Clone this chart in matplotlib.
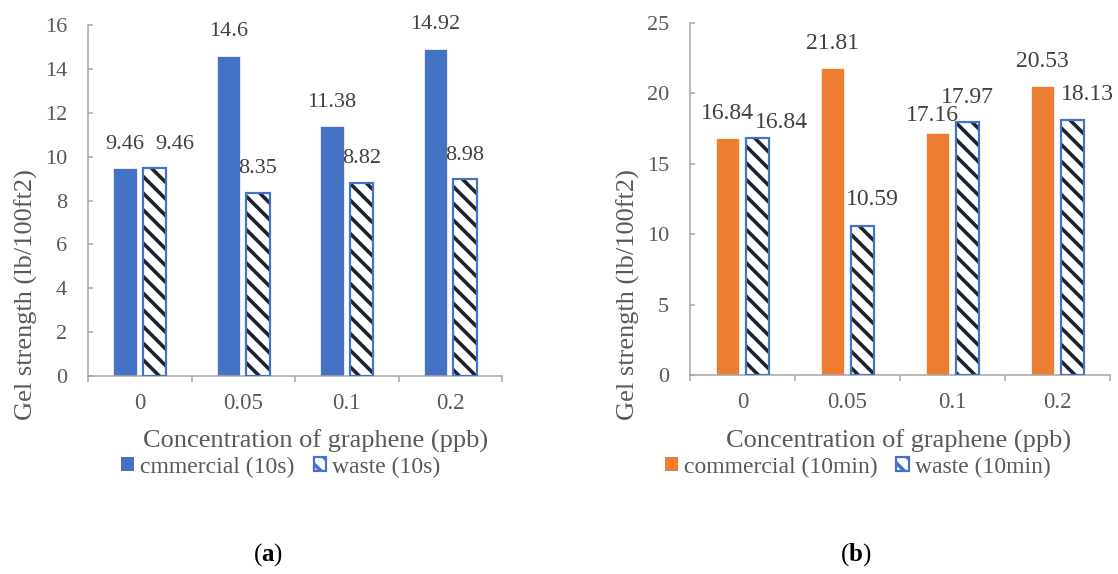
import matplotlib.pyplot as plt
import numpy as np

# data
concentrations = ['0', '0.05', '0.1', '0.2']
commercial_10s = [9.46, 14.6, 11.38, 14.92]
waste_10s = [9.46, 8.35, 8.82, 8.98]
commercial_10min = [16.84, 21.81, 17.16, 20.53]
waste_10min = [16.84, 10.59, 17.97, 18.13]

plt.rcParams['font.family'] = ['Liberation Serif', 'DejaVu Serif']
plt.rcParams['mathtext.fontset'] = 'custom'
plt.rcParams['mathtext.rm'] = 'Liberation Serif'
plt.rcParams['mathtext.bf'] = 'Liberation Serif:bold'
plt.rcParams['hatch.linewidth'] = 2.6

W, H = 1118, 574
BLUE = '#4472C4'
ORANGE = '#ED7D31'
HATCH = '#1b2230'
GRAY = '#a6a6a6'
TXT = '#595959'
LBL = '#404040'

fig = plt.figure(figsize=(W / 100, H / 100), dpi=100)


def px(x, y):
    return x / W, 1 - y / H


def panel(rect, com, wst, ymax, ystep, com_color, com_name, wst_name,
          nudges, lblsize, xlab_x, leg_x, tag, tag_x):
    ax = fig.add_axes(rect)
    x = np.arange(len(concentrations))
    bw, off = 0.225, 0.143
    ax.bar(x - off, com, bw, color=com_color, edgecolor='white', linewidth=0.5,
           zorder=2)
    # hatch drawn first in dark colour, then the blue outline on top
    ax.bar(x + off, wst, bw, color='white', edgecolor=HATCH, hatch='\\\\',
           linewidth=0, zorder=2)
    ax.bar(x + off, wst, bw, fill=False, edgecolor=BLUE, linewidth=1.6, zorder=3)

    vals = [(xi - off, v) for xi, v in zip(x, com)] + \
           [(xi + off, v) for xi, v in zip(x, wst)]
    for i, (xx, v) in enumerate(vals):
        dx, dy = nudges.get(i, (0, 24))
        ax.annotate(f'{v:g}', (xx, v), xytext=(dx * 0.72, dy * 0.72),
                    textcoords='offset points', ha='center', va='center',
                    fontsize=lblsize, color=LBL)

    ax.set_xlim(-0.5, len(concentrations) - 0.5)
    ax.set_ylim(0, ymax)
    ax.set_yticks(np.arange(0, ymax + 0.1, ystep))
    ax.set_xticks(x)
    ax.set_xticklabels(concentrations)
    ax.set_xticks(np.arange(-0.5, len(concentrations)), minor=True)
    ax.tick_params(axis='x', which='major', length=0, pad=12, labelsize=16.5,
                   labelcolor=TXT)
    ax.tick_params(axis='x', which='minor', length=4.5, width=1.1, color=GRAY,
                   direction='out')
    ax.tick_params(axis='y', length=3.5, width=1.1, color=GRAY, direction='in',
                   pad=15, labelsize=16, labelcolor=TXT)
    for s in ['top', 'right']:
        ax.spines[s].set_visible(False)
    for s in ['left', 'bottom']:
        ax.spines[s].set_color(GRAY)
        ax.spines[s].set_linewidth(1.1)

    fig.text(*px(rect[0] * W - 62, 295), 'Gel strength (lb/100ft2)', rotation=90,
             ha='center', va='center', fontsize=19, color=TXT)
    fig.text(*px(xlab_x, 441), 'Concentration of graphene (ppb)', ha='center',
             va='center', fontsize=19, color=TXT)

    h1 = plt.Rectangle((0, 0), 1, 1, facecolor=com_color, edgecolor='none')
    h2 = plt.Rectangle((0, 0), 1, 1, facecolor='white', edgecolor=BLUE,
                       hatch='\\\\', linewidth=1.6)
    fig.legend([h1, h2], [com_name, wst_name], loc='center',
               bbox_to_anchor=px(leg_x, 467), ncol=2, frameon=False,
               fontsize=17, handlelength=0.55, handleheight=0.55,
               handletextpad=0.25, columnspacing=0.8, borderpad=0,
               labelcolor=TXT)
    fig.text(*px(tag_x, 555), tag, ha='center', va='center', fontsize=18,
             color='black')
    return ax


panel([88 / W, 1 - 376 / H, 414 / W, 351 / H], commercial_10s, waste_10s, 16, 2,
      BLUE, 'cmmercial (10s)', 'waste (10s)',
      {4: (20, 24)}, 16, 316, 281, r'($\mathbf{a}$)', 268)
panel([690 / W, 1 - 375 / H, 420 / W, 352 / H], commercial_10min, waste_10min,
      25, 5, ORANGE, 'commercial (10min)', 'waste (10min)',
      {4: (24, 15), 5: (10, 26), 2: (-5, 18), 7: (15, 25)}, 17, 899, 858,
      r'($\mathbf{b}$)', 856)

fig.savefig('out.png', dpi=100)
